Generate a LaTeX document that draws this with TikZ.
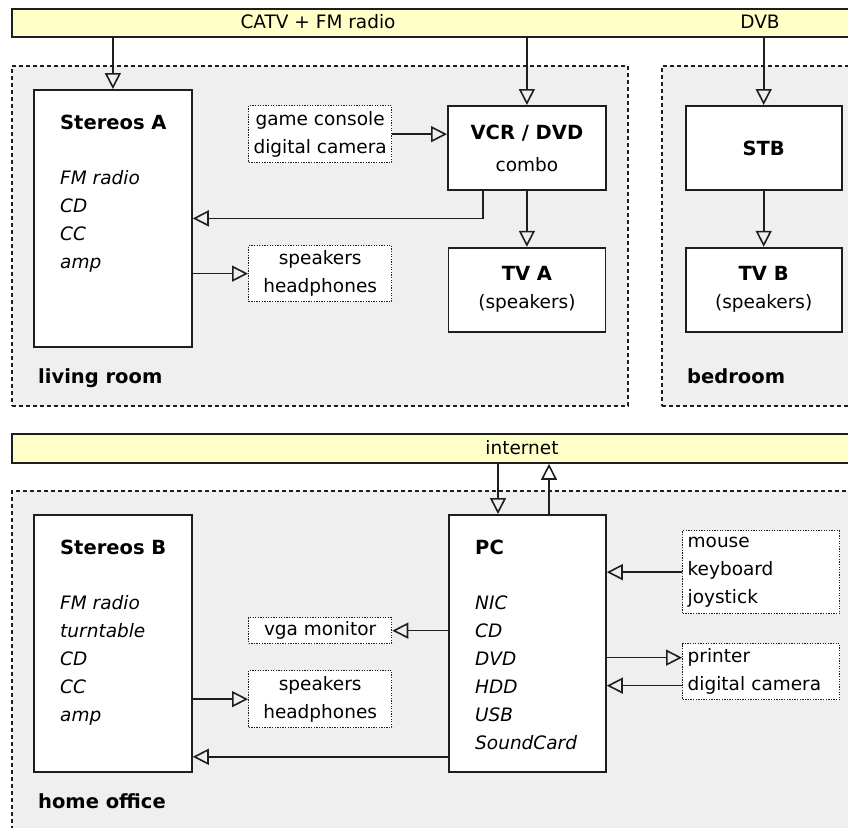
\documentclass[tikz,border=0pt]{standalone}
\usepackage{fontspec}
\setmainfont{DejaVu Sans}
\usetikzlibrary{positioning,calc,arrows.meta}
\definecolor{busyellow}{RGB}{255,255,200}
\definecolor{roomgray}{RGB}{239,239,239}
\definecolor{linegray}{RGB}{30,30,30}
\tikzset{
  bus/.style={rectangle,draw=linegray,line width=1.8pt,fill=busyellow,anchor=north west,
    minimum width=850pt,minimum height=28pt},
  room/.style={rectangle,draw=linegray,line width=1.8pt,dash pattern=on 4pt off 3pt,
    fill=roomgray,anchor=north west},
  dev/.style args={#1,#2}{rectangle,draw=linegray,line width=1.8pt,fill=white,
    minimum width=#1pt,minimum height=#2pt,align=center},
  ext/.style args={#1,#2}{rectangle,draw=linegray,line width=1.3pt,dash pattern=on 1.3pt off 1.3pt,
    fill=white,minimum width=#1pt,minimum height=#2pt,align=center,inner ysep=1pt},
  extl/.style={ext={157,#1},text width=147pt,inner xsep=5pt,align=left},
  txt/.style={align=left,inner sep=0pt},
  hd/.style={font=\fontsize{19.5pt}{28pt}\selectfont\bfseries},
  lbl/.style={inner sep=0pt,hd},
  arr/.style={draw=linegray,line width=1.6pt,-{Triangle[open,length=16pt,width=16pt]}}
}
\newcommand{\hdr}[1]{{\fontsize{19.5pt}{28pt}\selectfont\bfseries #1}}

\begin{document}
\begin{tikzpicture}[x=1pt,y=1pt,font=\fontsize{18.5pt}{28pt}\selectfont]
  \useasboundingbox (0,0) rectangle (848,-827);

  \node[room,minimum width=616pt,minimum height=340pt] (living) at (11,-65) {};
  \node[room,minimum width=200pt,minimum height=340pt] (bedroom) at (661,-65) {};
  \node[room,minimum width=850pt,minimum height=345pt] (office) at (11,-490) {};

  \node[bus] (catv) at (11,-8) {};
  \node[bus,minimum height=29pt] (inet) at (11,-433) {};
  \node (catvtxt) at (318,-22) {CATV + FM radio};
  \node (dvbtxt) at (760,-22) {DVB};
  \node (inettxt) at (522,-448) {internet};

  % living room
  \node[dev={158,257},anchor=north west] (sterA) at (33,-89) {};
  \node[txt,below right=26pt and 27pt of sterA.north west] (sterAtxt) {\hdr{Stereos A}\\[27pt]
                                                                  \textit{FM radio}\\
                                                                  \textit{CD}\\
                                                                  \textit{CC}\\
                                                                  \textit{amp}};
  \node[ext={143,57},anchor=north west] (game) at (248,-105) {game console\\digital camera};
  \node[dev={158,84},anchor=north west] (vcr) at (447,-105) {\hdr{VCR / DVD}\\[4pt]combo};
  \node[ext={143,56},anchor=north west] (spkA) at (248,-245) {speakers\\headphones};
  \node[dev={157,84},below=56pt of vcr] (tvA) {\hdr{TV A}\\(speakers)};
  \node[lbl,anchor=base west] (livingtxt) at ([shift={(27pt,23pt)}]living.south west) {living room};

  % bedroom
  \node[dev={156,84},right=78pt of vcr] (settop) {\hdr{STB}};
  \node[dev={156,84},below=56pt of settop] (tvB) {\hdr{TV B}\\(speakers)};
  \node[lbl,anchor=base west] (bedroomtxt) at ([shift={(26pt,23pt)}]bedroom.south west) {bedroom};

  % home office
  \node[dev={158,257},anchor=north west] (sterB) at (33,-514) {};
  \node[txt,below right=26pt and 27pt of sterB.north west] (sterBtxt) {\hdr{Stereos B}\\[27pt]
                                                                  \textit{FM radio}\\
                                                                  \textit{turntable}\\
                                                                  \textit{CD}\\
                                                                  \textit{CC}\\
                                                                  \textit{amp}};
  \node[dev={157,257},anchor=north west] (pc) at (448,-514) {};
  \node[txt,below right=26pt and 27pt of pc.north west] (pctxt) {\hdr{PC}\\[27pt]
                                                                  \textit{NIC}\\
                                                                  \textit{CD}\\
                                                                  \textit{DVD}\\
                                                                  \textit{HDD}\\
                                                                  \textit{USB}\\
                                                                  \textit{SoundCard}};
  \node[extl=83,anchor=north west] (mouse) at (682,-530) {mouse\\keyboard\\joystick};
  \node[ext={143,26},anchor=north west] (vga) at (248,-617) {vga monitor};
  \node[extl=56,anchor=north west] (prn) at (682,-643) {printer\\digital camera};
  \node[ext={143,57},anchor=north west] (spkB) at (248,-670) {speakers\\headphones};
  \node[lbl,anchor=base west] (officetxt) at (38,-808) {home office};

  % connectors
  \draw[arr] (catv.south -| sterA.north) -- (sterA.north);
  \draw[arr] (catv.south -| vcr.north) -- (vcr.north);
  \draw[arr] (catv.south -| settop.north) -- (settop.north);
  \draw[arr] (game.east) -- (game.east -| vcr.west);
  \coordinate (vcrout) at ([xshift=36pt]vcr.south west);
  \draw[arr] (vcrout) |- (sterA.east);
  \draw[arr] (vcr.south) -- (tvA.north);
  \draw[arr] (spkA.west -| sterA.east) -- (spkA.west);
  \draw[arr] (settop.south) -- (tvB.north);

  \coordinate (pcin) at ([xshift=50pt]pc.north west);
  \coordinate (pcout) at ([xshift=101pt]pc.north west);
  \draw[arr] (inet.south -| pcin) -- (pcin);
  \draw[arr] (pcout) -- (inet.south -| pcout);
  \draw[arr] (mouse.west) -- (mouse.west -| pc.east);
  \draw[arr] (vga.east -| pc.west) -- (vga.east);
  \coordinate (prnin) at ([yshift=14pt]prn.west);
  \coordinate (camout) at ([yshift=-14pt]prn.west);
  \draw[arr] (prnin -| pc.east) -- (prnin);
  \draw[arr] (camout) -- (camout -| pc.east);
  \draw[arr] (spkB.west -| sterB.east) -- (spkB.west);
  \coordinate (sndout) at ([yshift=16pt]pc.south west);
  \draw[arr] (sndout) -- (sndout -| sterB.east);
\end{tikzpicture}
\end{document}
